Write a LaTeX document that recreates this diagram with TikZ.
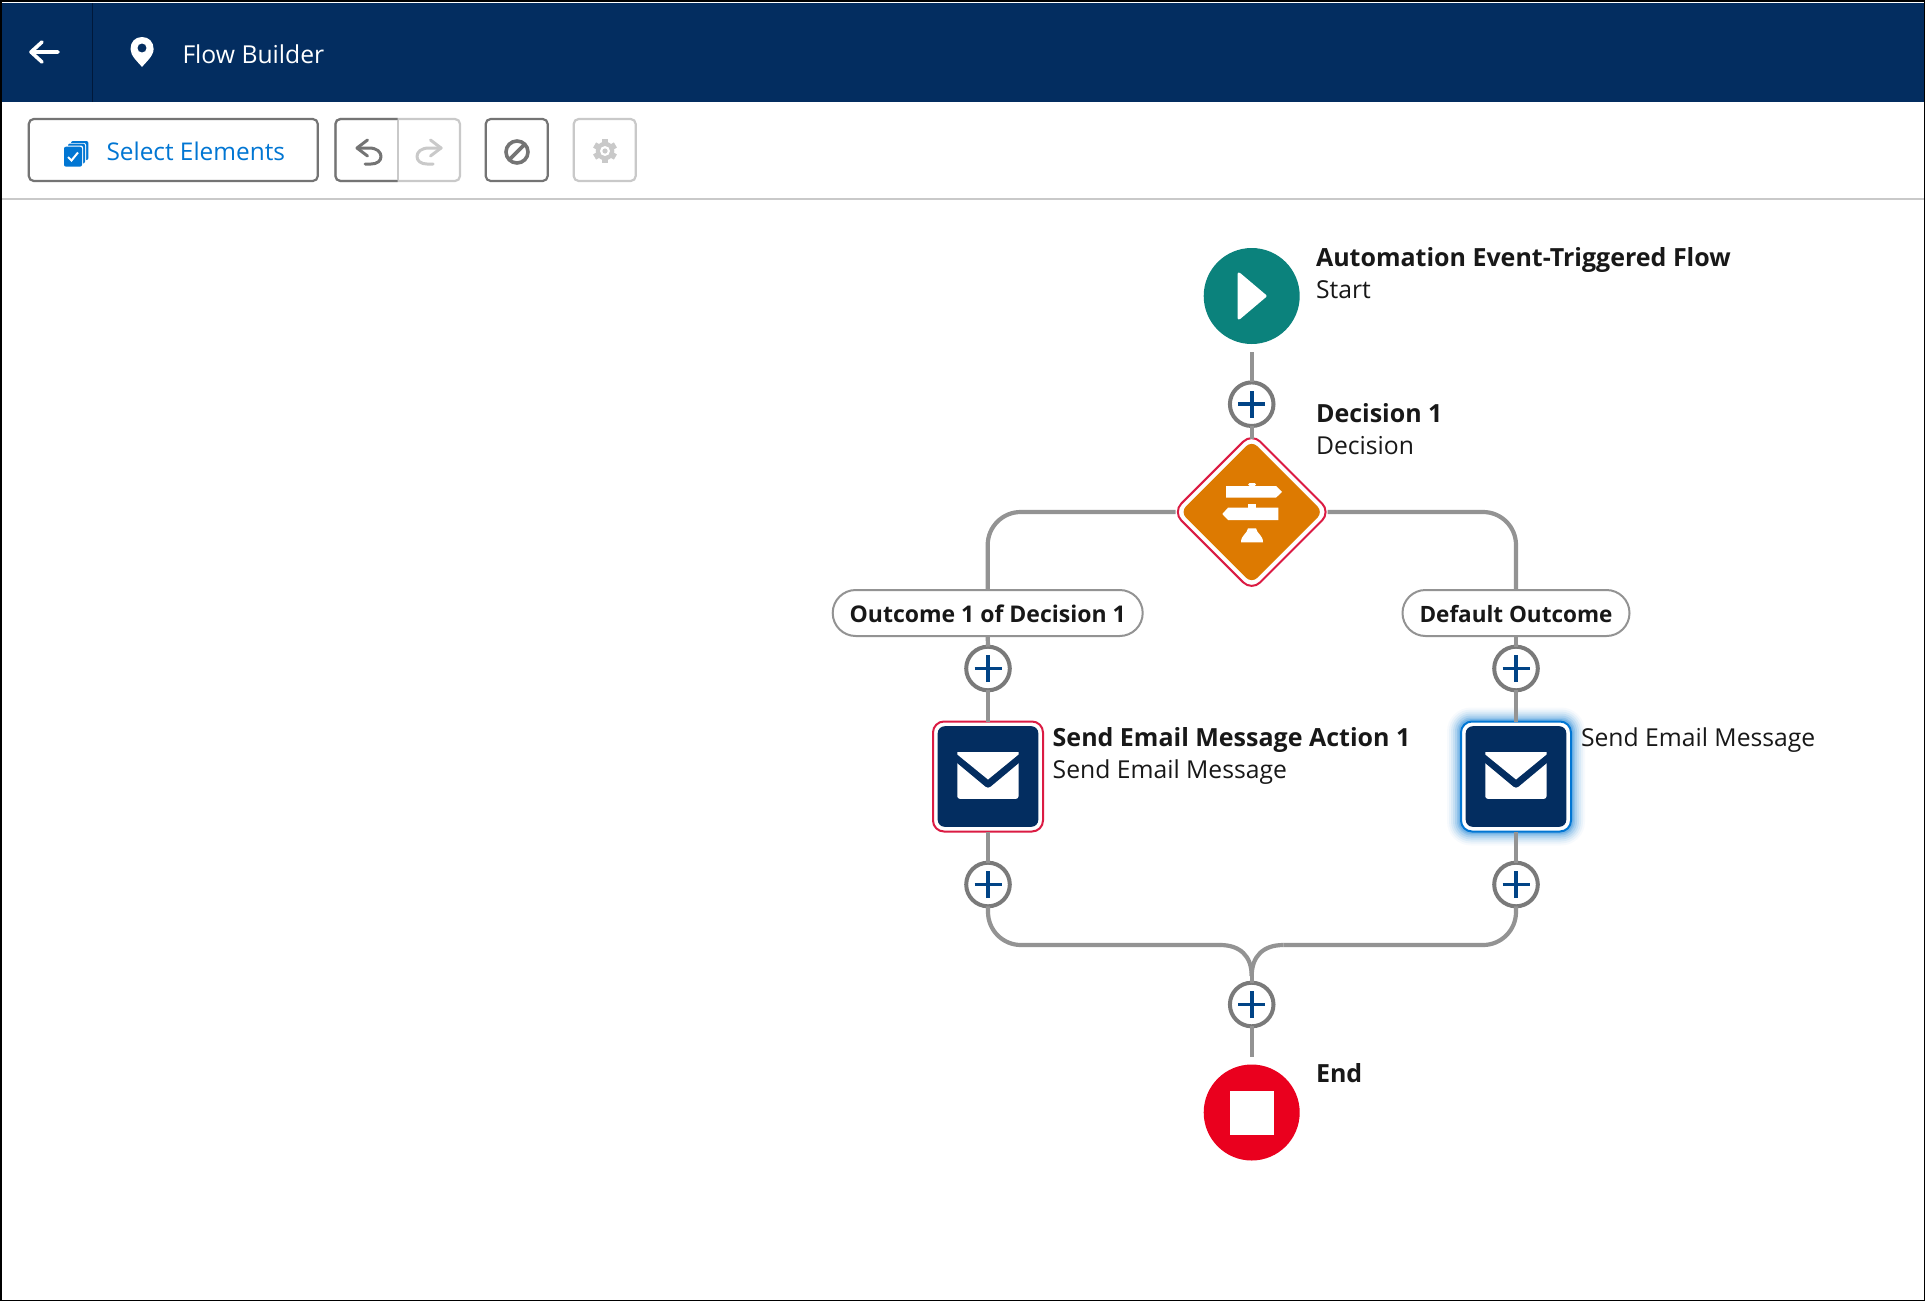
\documentclass[tikz,border=0pt]{standalone}
\usepackage{fontspec}
\setmainfont{Open Sans}
\usetikzlibrary{calc}
\definecolor{navy}{HTML}{032D60}
\definecolor{navydark}{HTML}{00183A}
\definecolor{teal}{HTML}{0B827C}
\definecolor{orangeD}{HTML}{DD7A01}
\definecolor{redE}{HTML}{EA001E}
\definecolor{crim}{HTML}{DB1B43}
\definecolor{plusblue}{HTML}{014486}
\definecolor{linegray}{HTML}{939393}
\definecolor{ringgray}{HTML}{7A7A7A}
\definecolor{textk}{HTML}{181818}
\definecolor{btnblue}{HTML}{0176D3}
\definecolor{btngray}{HTML}{747474}
\definecolor{btnlight}{HTML}{C9C9C9}
\tikzset{
  x=1pt,y=-1pt,
  every node/.style={inner sep=0pt,outer sep=0pt,text=textk},
  conn/.style={draw=linegray,line width=4.2pt},
  lblb/.style={anchor=base west,font=\fontsize{25}{25}\selectfont\bfseries},
  lblr/.style={anchor=base west,font=\fontsize{24.7}{25}\selectfont},
  addbtn/.style={circle,draw=ringgray,line width=4pt,fill=white,minimum size=43.6pt,
    path picture={\draw[plusblue,line width=3.7pt]
      ([xshift=-13.5pt]path picture bounding box.center) -- ([xshift=13.5pt]path picture bounding box.center)
      ([yshift=-13.5pt]path picture bounding box.center) -- ([yshift=13.5pt]path picture bounding box.center);}},
  pill/.style={rectangle,rounded corners=23pt,draw=linegray,line width=2pt,fill=white,minimum height=46pt,
    font=\fontsize{#1}{24}\selectfont\bfseries,text height=18.5pt,text depth=0pt},
  actbox/.style={rectangle,rounded corners=7pt,fill=navy,minimum size=100.6pt},
  ringbox/.style={rectangle,rounded corners=11pt,draw=#1,line width=2pt,fill=white,minimum size=110pt},
  toolbtn/.style={rectangle,rounded corners=5pt,draw=#1,line width=2.2pt,fill=white,minimum height=62pt},
  termc/.style={circle,fill=#1,minimum size=96pt},
  tip/.style={draw=#1,line width=3pt,line cap=round,line join=round},
  envelope/.pic={
    \fill[white,rounded corners=2.5pt] (-30.7,-24.3) rectangle (30.5,22.3);
    \draw[navy,line width=7.6pt,line join=round] (-38,-24.4) -- (0,7.3) -- (38,-24.4);
    \fill[white] (-30.7,-24.3) -- (30.5,-24.3) -- (30.5,-22) -- (0,3) -- (-30.7,-22) -- cycle;
  },
  undoicon/.pic={
    \draw[tip=#1] (10.5,-12) -- (0,-4) -- (10.5,4);
    \draw[tip=#1] (0,-4) -- (12,-4) .. controls (20,-4) and (24,0) .. (24,4.5) .. controls (24,9) and (20,12) .. (14,12) -- (8,12);
  }
}
\begin{document}
\begin{tikzpicture}
\useasboundingbox (0,0) rectangle (1925,1301);
\fill[white] (0,0) rectangle (1925,1301);
% header
\fill[navy] (0,3) rectangle (1925,102);
\draw[navydark,line width=1.5pt] (92.5,3) -- (92.5,102);
\draw[white,line width=3.6pt,line join=round,line cap=round] (42,42) -- (31,52) -- (42,62) (31,52) -- (58,52);
\fill[white,even odd rule] (130.5,49) .. controls (130.5,42) and (135,37) .. (142,37) .. controls (149,37) and (153.6,42) .. (153.6,49) .. controls (153.6,56) and (146,62) .. (142,67) .. controls (138,62) and (130.5,56) .. (130.5,49) -- cycle (142,48) circle[radius=4.6];
\node[lblr,text=white] (title) at (182.5,63) {Flow Builder};
% toolbar
\draw[btnlight,line width=2pt] (0,199) -- (1925,199);
\node[toolbtn=btngray,minimum width=289pt] (selbtn) at (173.3,150) {};
\node[anchor=base west,font=\fontsize{24.4}{25}\selectfont,text=btnblue] (seltxt) at (106.5,160.5) {Select Elements};
\fill[btnblue,rounded corners=2pt] (71,141) rectangle (88.4,160);
\fill[white,rounded corners=2pt] (68.5,143) rectangle (86,163);
\fill[btnblue,rounded corners=2pt] (68,143.5) rectangle (85,163.5);
\fill[white,rounded corners=2pt] (65.5,145.5) rectangle (83,168);
\fill[btnblue,rounded corners=2pt] (64,146.7) rectangle (82,166.7);
\draw[white,line width=2pt] (68,157) -- (71.5,160.5) -- (78,152.5);
% undo / redo
\node[toolbtn=btnlight,minimum width=124.6pt] (histbtn) at (397.7,150) {};
\draw[btngray,line width=2.2pt,rounded corners=5pt] (397.7,119) -- (335.4,119) -- (335.4,181) -- (397.7,181);
\draw[btnlight,line width=1.9pt] (397.7,120) -- (397.7,180);
\pic at (357,152) {undoicon=btngray};
\pic[xscale=-1] at (441,152) {undoicon=btnlight};
\node[toolbtn=btngray,minimum width=62pt] (stopbtn) at (516.7,150) {};
\draw[btngray,line width=3.6pt] (517,152) circle[radius=11];
\draw[btngray,line width=3.6pt] (509.5,159.5) -- (524.5,144.5);
\node[toolbtn=btnlight,minimum width=62pt] (gearbtn) at (604.7,150) {};
\foreach \a in {30,90,...,330}{\draw[btnlight,line width=6pt] (605,151) -- ++(\a:12);}
\fill[btnlight] (605,151) circle[radius=9.3];
\fill[white] (605,151) circle[radius=5];
\fill[btnlight] (605,151) circle[radius=2.6];
% nodes
\node[termc=teal] (start) at (1251.7,296) {};
\fill[white,draw=white,line width=3pt,line join=round] (1239,274) -- (1265,296) -- (1239,318) -- cycle;
\node[lblb] (startT) at (1316,266) {Automation Event-Triggered Flow};
\node[lblr] (startS) at (1316,298.7) {Start};
\node[addbtn] (add1) at (1251.7,404.2) {};
\node[rectangle,rotate=45,rounded corners=12pt,draw=crim,line width=2pt,fill=white,minimum size=111.5pt] (dec) at (1251.7,512) {};
\node[rectangle,rotate=45,rounded corners=8pt,fill=orangeD,minimum size=101pt] (decIn) at (1251.7,512) {};
% signpost icon
\fill[white,rounded corners=1.5pt] (1248,486) rectangle (1256,483);
\fill[white] (1226,486) -- (1276,486) -- (1282,491.8) -- (1276,497.7) -- (1226,497.7) -- cycle;
\fill[white] (1248,507.7) rectangle (1256,504);
\fill[white] (1228,507.7) -- (1278.3,507.7) -- (1278.3,520) -- (1228,520) -- (1222.3,514) -- cycle;
\fill[white] (1241,542.3) -- (1263,542.3) .. controls (1263,535) and (1257,534) .. (1256,528.3) -- (1248,528.3) .. controls (1247,534) and (1241,535) .. (1241,542.3) -- cycle;
\node[lblb] (decT) at (1316,422) {Decision 1};
\node[lblr] (decS) at (1316,454) {Decision};
\coordinate (decL) at ([xshift=-76pt]dec.center);
\coordinate (decR) at ([xshift=76pt]dec.center);
\coordinate (decTop) at ([yshift=73pt]dec.center);
\node[pill=23,minimum width=310pt] (outA) at (987.7,613) {Outcome 1 of Decision 1};
\node[pill=22.5,minimum width=227pt] (outB) at (1516,613) {Default Outcome};
\node[addbtn] (add2) at (988,668.5) {};
\node[addbtn] (add3) at (1516,668.5) {};
\node[ringbox=crim] (mailAring) at (988,776.5) {};
\node[actbox] (mailA) at (988,776.5) {};
\pic at (988,776.5) {envelope};
\node[lblb] (mailAT) at (1052.7,746) {Send Email Message Action 1};
\node[lblr] (mailAS) at (1052.7,778) {Send Email Message};
\foreach \w/\o in {13/.03,11/.05,9/.07,7/.09,5/.12,3/.16,1.5/.2}{
  \fill[btnblue,opacity=\o,rounded corners=11pt+\w*1pt] (1516-56-\w,776.5-56-\w) rectangle (1516+56+\w,776.5+56+\w);}
\node[ringbox=btnblue] (mailBring) at (1516,776.5) {};
\node[actbox] (mailB) at (1516,776.5) {};
\pic at (1516,776.5) {envelope};
\node[lblr] (mailBS) at (1581,746) {Send Email Message};
\node[addbtn] (add4) at (988,884.5) {};
\node[addbtn] (add5) at (1516,884.5) {};
\node[addbtn] (add6) at (1251.7,1004.5) {};
\node[termc=redE] (endN) at (1251.7,1112.5) {};
\fill[white] (1230,1090.8) rectangle (1274,1134.8);
\node[lblb] (endT) at (1316,1082) {End};
\coordinate (mergeD) at (1251.7,976);
\coordinate (mergeLc) at (1220,945);
\coordinate (mergeRc) at (1283.4,945);
% connectors
\draw[conn,shorten <=8pt] (start.south) -- (add1.north);
\draw[conn] (add1.south) -- (decTop);
\draw[conn,rounded corners=33pt] (decL) -| (outA.north);
\draw[conn,rounded corners=33pt] (decR) -| (outB.north);
\draw[conn] (outA.south) -- (add2.north);
\draw[conn] (outB.south) -- (add3.north);
\draw[conn] (add2.south) -- (mailAring.north);
\draw[conn] (add3.south) -- (mailBring.north);
\draw[conn] (mailAring.south) -- (add4.north);
\draw[conn] (mailBring.south) -- (add5.north);
\draw[conn,rounded corners=33pt] (add4.south) |- (mergeLc);
\draw[conn,rounded corners=33pt] (add5.south) |- (mergeRc);
\draw[conn] (mergeLc) .. controls (1240,945) and (1251.7,956) .. (mergeD);
\draw[conn] (mergeRc) .. controls (1263.4,945) and (1251.7,956) .. (mergeD);
\draw[conn] (mergeD) -- (add6.north);
\draw[conn,shorten >=8pt] (add6.south) -- (endN.north);
% frame
\draw[black,line width=1.5pt] (0.75,0.75) rectangle (1924.25,1300.25);
\end{tikzpicture}
\end{document}
